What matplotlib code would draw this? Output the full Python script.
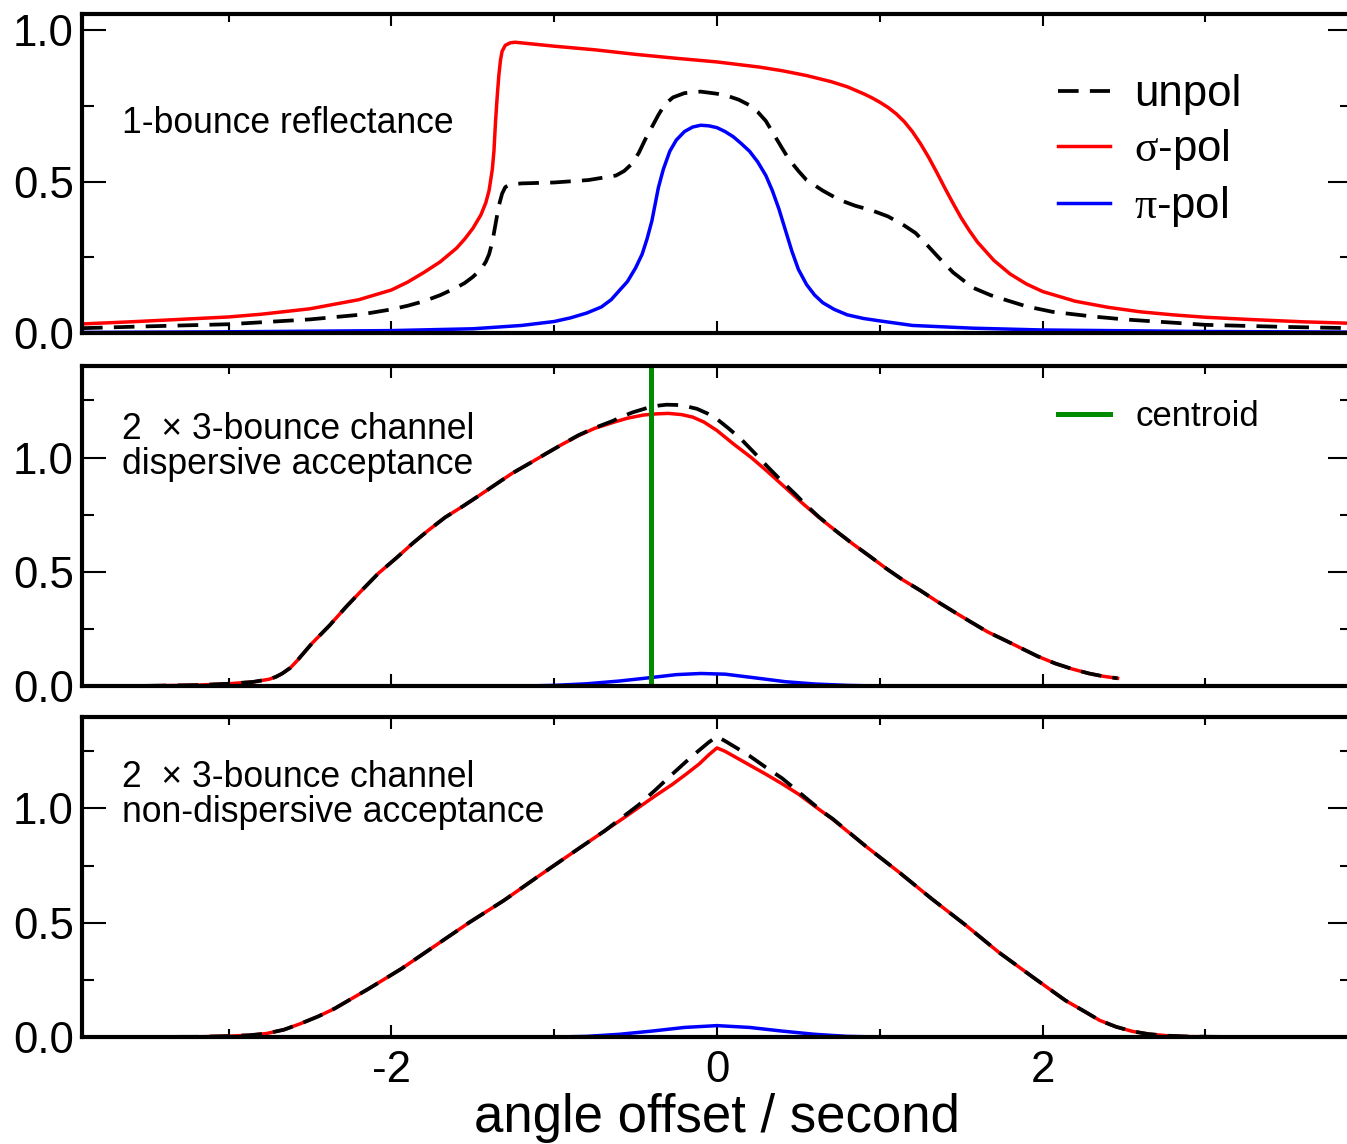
import matplotlib
matplotlib.use('Agg')
import matplotlib.pyplot as plt
from matplotlib.ticker import MultipleLocator, FormatStrFormatter

plt.rcParams['font.family'] = ['Liberation Sans', 'DejaVu Sans']
plt.rcParams['mathtext.fontset'] = 'custom'
plt.rcParams['mathtext.rm'] = 'Liberation Serif'
plt.rcParams['axes.unicode_minus'] = False

# ---- 1-bounce reflectance ----
sig1_x = [-3.9, -3.6, -3.3, -3.0, -2.8, -2.5, -2.2, -2.0, -1.9, -1.8, -1.7, -1.6, -1.55,
          -1.5, -1.45, -1.42, -1.4, -1.38, -1.37, -1.36, -1.35, -1.34, -1.33, -1.32, -1.3,
          -1.27, -1.24, -1.0, -0.75, -0.5, -0.25, 0.0, 0.26, 0.4, 0.55, 0.7, 0.8, 0.9,
          0.95, 1.0, 1.05, 1.1, 1.15, 1.2, 1.25, 1.3, 1.35, 1.4, 1.45, 1.5, 1.55, 1.6, 1.7,
          1.8, 1.9, 2.0, 2.2, 2.4, 2.6, 2.8, 3.0, 3.3, 3.6, 3.9]
sig1_y = [0.030, 0.037, 0.045, 0.053, 0.062, 0.080, 0.110, 0.142, 0.168, 0.20, 0.235,
          0.28, 0.31, 0.345, 0.39, 0.43, 0.47, 0.54, 0.60, 0.70, 0.78, 0.85, 0.90, 0.93,
          0.95, 0.958, 0.96, 0.947, 0.935, 0.92, 0.907, 0.895, 0.878, 0.866, 0.85, 0.83,
          0.813, 0.79, 0.777, 0.762, 0.745, 0.724, 0.698, 0.665, 0.625, 0.58, 0.53, 0.478,
          0.428, 0.38, 0.338, 0.3, 0.24, 0.195, 0.162, 0.137, 0.105, 0.085, 0.07, 0.06,
          0.052, 0.044, 0.037, 0.032]

pi1_x = [-3.9, -3.0, -2.0, -1.5, -1.2, -1.0, -0.9, -0.8, -0.71, -0.65, -0.6, -0.55, -0.5,
         -0.46, -0.43, -0.4, -0.38, -0.36, -0.33, -0.29, -0.25, -0.2, -0.15, -0.1, -0.05,
         0.0, 0.05, 0.1, 0.15, 0.2, 0.25, 0.3, 0.34, 0.38, 0.42, 0.46, 0.5, 0.55, 0.6,
         0.65, 0.72, 0.8, 0.9, 1.0, 1.2, 1.57, 2.0, 3.0, 3.9]
pi1_y = [0.002, 0.004, 0.008, 0.014, 0.025, 0.038, 0.05, 0.066, 0.086, 0.11, 0.14, 0.17,
         0.215, 0.26, 0.31, 0.37, 0.425, 0.48, 0.54, 0.60, 0.637, 0.665, 0.68, 0.686,
         0.684, 0.678, 0.665, 0.648, 0.625, 0.60, 0.565, 0.52, 0.47, 0.41, 0.34, 0.27,
         0.21, 0.16, 0.125, 0.10, 0.078, 0.06, 0.048, 0.04, 0.025, 0.016, 0.010, 0.005, 0.003]

unp1_x = [-3.9, -3.5, -3.0, -2.5, -2.2, -2.0, -1.9, -1.8, -1.7, -1.6, -1.55, -1.5, -1.45,
          -1.42, -1.4, -1.38, -1.36, -1.34, -1.32, -1.3, -1.27, -1.2, -1.0, -0.79, -0.62,
          -0.57, -0.52, -0.48, -0.44, -0.4, -0.36, -0.32, -0.27, -0.2, -0.1, 0.0, 0.07,
          0.135, 0.2, 0.25, 0.3, 0.35, 0.4, 0.44, 0.5, 0.55, 0.65, 0.75, 0.85, 0.95, 1.05,
          1.15, 1.22, 1.3, 1.36, 1.45, 1.57, 1.68, 1.78, 1.9, 2.06, 2.3, 2.5, 3.0, 3.5, 3.9]
unp1_y = [0.016, 0.022, 0.029, 0.045, 0.06, 0.078, 0.09, 0.105, 0.125, 0.15, 0.165, 0.185,
          0.21, 0.235, 0.26, 0.30, 0.36, 0.42, 0.46, 0.482, 0.49, 0.494, 0.497, 0.505, 0.52,
          0.535, 0.56, 0.595, 0.64, 0.68, 0.72, 0.755, 0.778, 0.792, 0.797, 0.79, 0.782,
          0.77, 0.752, 0.73, 0.70, 0.655, 0.61, 0.575, 0.535, 0.505, 0.47, 0.44, 0.42, 0.405,
          0.385, 0.355, 0.33, 0.285, 0.25, 0.20, 0.15, 0.125, 0.108, 0.088, 0.07, 0.055,
          0.045, 0.027, 0.02, 0.016]

# ---- 2 x 3-bounce, dispersive ----
sig2_x = [-3.9, -3.5, -3.2, -3.0, -2.85, -2.75, -2.71, -2.67, -2.62, -2.58, -2.49, -2.38,
          -2.28, -2.18, -2.08, -1.97, -1.87, -1.77, -1.67, -1.56, -1.46, -1.36, -1.26,
          -1.15, -1.05, -0.95, -0.85, -0.75, -0.64, -0.55, -0.45, -0.37, -0.3, -0.22,
          -0.15, -0.08, 0.0, 0.1, 0.21, 0.3, 0.417, 0.52, 0.624, 0.73, 0.832, 0.94, 1.04,
          1.14, 1.247, 1.35, 1.455, 1.56, 1.662, 1.77, 1.87, 1.97, 2.077, 2.18, 2.285,
          2.37, 2.46]
sig2_y = [0.0, 0.001, 0.004, 0.010, 0.018, 0.030, 0.040, 0.055, 0.08, 0.11, 0.185, 0.265,
          0.345, 0.42, 0.493, 0.56, 0.624, 0.683, 0.738, 0.787, 0.834, 0.882, 0.93, 0.975,
          1.017, 1.058, 1.096, 1.128, 1.153, 1.172, 1.186, 1.191, 1.193, 1.188, 1.177,
          1.155, 1.118, 1.06, 1.0, 0.945, 0.87, 0.803, 0.739, 0.679, 0.623, 0.567, 0.514,
          0.465, 0.419, 0.371, 0.325, 0.28, 0.237, 0.2, 0.165, 0.13, 0.099, 0.075, 0.055,
          0.043, 0.034]

unp2_x = [-3.9, -3.5, -3.2, -3.0, -2.85, -2.75, -2.71, -2.67, -2.62, -2.58, -2.49, -2.38,
          -2.28, -2.18, -2.08, -1.97, -1.87, -1.77, -1.67, -1.56, -1.46, -1.36, -1.26,
          -1.15, -1.05, -0.95, -0.85, -0.75, -0.64, -0.58, -0.52, -0.46, -0.42, -0.36,
          -0.31, -0.25, -0.2, -0.123, -0.06, 0.0, 0.07, 0.147, 0.23, 0.313, 0.4, 0.479,
          0.55, 0.624, 0.73, 0.832, 0.94, 1.04, 1.14, 1.247, 1.35, 1.455, 1.56, 1.662,
          1.77, 1.87, 1.97, 2.077, 2.18, 2.285, 2.37, 2.46]
unp2_y = [0.0, 0.001, 0.004, 0.010, 0.018, 0.030, 0.040, 0.055, 0.08, 0.11, 0.185, 0.265,
          0.345, 0.42, 0.493, 0.56, 0.624, 0.683, 0.738, 0.787, 0.834, 0.882, 0.93, 0.975,
          1.017, 1.058, 1.098, 1.13, 1.16, 1.18, 1.197, 1.21, 1.219, 1.227, 1.231, 1.23,
          1.226, 1.213, 1.193, 1.168, 1.128, 1.081, 1.02, 0.958, 0.895, 0.841, 0.79, 0.741,
          0.679, 0.623, 0.567, 0.514, 0.465, 0.419, 0.371, 0.325, 0.28, 0.237, 0.2, 0.165,
          0.13, 0.099, 0.075, 0.055, 0.043, 0.034]

pi2_x = [-3.9, -1.2, -1.0, -0.8, -0.6, -0.42, -0.25, -0.1, 0.05, 0.21, 0.42, 0.6, 0.8, 1.0, 2.46]
pi2_y = [0.0, 0.0, 0.003, 0.01, 0.022, 0.036, 0.05, 0.055, 0.052, 0.038, 0.019, 0.009, 0.003, 0.0, 0.0]

centroid = -0.405

# ---- 2 x 3-bounce, non-dispersive ----
sig3_x = [-3.9, -3.2, -3.0, -2.87, -2.77, -2.66, -2.56, -2.45, -2.35, -2.14, -1.94, -1.73,
          -1.52, -1.31, -1.106, -0.898, -0.69, -0.58, -0.482, -0.38, -0.275, -0.19, -0.109,
          -0.05, 0.0, 0.05, 0.12, 0.2, 0.3, 0.4, 0.5, 0.6, 0.71, 0.91, 1.12, 1.32, 1.53,
          1.73, 1.94, 2.14, 2.25, 2.35, 2.45, 2.55, 2.65, 2.76, 2.9, 3.2]
sig3_y = [0.0, 0.001, 0.004, 0.008, 0.015, 0.032, 0.058, 0.09, 0.124, 0.211, 0.298, 0.40,
          0.502, 0.597, 0.699, 0.801, 0.902, 0.955, 1.004, 1.055, 1.105, 1.15, 1.195, 1.235,
          1.265, 1.25, 1.222, 1.19, 1.15, 1.108, 1.063, 1.01, 0.953, 0.837, 0.72, 0.604,
          0.488, 0.371, 0.262, 0.16, 0.115, 0.073, 0.045, 0.025, 0.013, 0.006, 0.002, 0.0]

unp3_x = [-3.9, -3.2, -3.0, -2.87, -2.77, -2.66, -2.56, -2.45, -2.35, -2.14, -1.94, -1.73,
          -1.52, -1.31, -1.106, -0.898, -0.69, -0.58, -0.482, -0.38, -0.275, -0.19, -0.109,
          -0.05, 0.0, 0.05, 0.12, 0.2, 0.3, 0.4, 0.48, 0.565, 0.65, 0.71, 0.91, 1.12, 1.32,
          1.53, 1.73, 1.94, 2.14, 2.25, 2.35, 2.45, 2.55, 2.65, 2.76, 2.9, 3.2]
unp3_y = [0.0, 0.001, 0.004, 0.008, 0.015, 0.032, 0.058, 0.09, 0.124, 0.211, 0.298, 0.40,
          0.502, 0.597, 0.699, 0.801, 0.902, 0.962, 1.015, 1.08, 1.15, 1.205, 1.255, 1.29,
          1.315, 1.295, 1.265, 1.23, 1.18, 1.132, 1.085, 1.035, 0.985, 0.955, 0.837, 0.72,
          0.604, 0.488, 0.371, 0.262, 0.16, 0.115, 0.073, 0.045, 0.025, 0.013, 0.006,
          0.002, 0.0]

pi3_x = [-3.9, -1.0, -0.8, -0.6, -0.4, -0.2, 0.0, 0.2, 0.4, 0.6, 0.8, 1.0, 3.9]
pi3_y = [0.0, 0.0, 0.003, 0.012, 0.026, 0.042, 0.05, 0.042, 0.026, 0.012, 0.003, 0.0, 0.0]

RED, BLUE, GREEN = '#ff0000', '#0000ff', '#008b00'
DASH = (0, (5.5, 3.0))

fig = plt.figure(figsize=(13.47, 11.44), dpi=100)
left, width = 82 / 1347, 1270 / 1347
ax1 = fig.add_axes([left, 0.7089, width, 0.2788])
ax2 = fig.add_axes([left, 0.4003, width, 0.2797])
ax3 = fig.add_axes([left, 0.0935, width, 0.2797])


def style(ax, ytop):
    ax.set_xlim(-3.9, 3.9)
    ax.set_ylim(0, ytop)
    ax.xaxis.set_major_locator(MultipleLocator(2))
    ax.xaxis.set_minor_locator(MultipleLocator(1))
    ax.yaxis.set_major_locator(MultipleLocator(0.5))
    ax.yaxis.set_minor_locator(MultipleLocator(0.25))
    ax.yaxis.set_major_formatter(FormatStrFormatter('%.1f'))
    ax.tick_params(which='both', direction='in', top=True, right=True, width=1.5)
    ax.tick_params(axis='y', which='major', length=17, labelsize=31.5, pad=6)
    ax.tick_params(axis='y', which='minor', length=8.5)
    ax.tick_params(axis='x', which='major', length=8.5, labelsize=31.5, pad=9)
    ax.tick_params(axis='x', which='minor', length=6)
    for sp in ax.spines.values():
        sp.set_linewidth(3)


def curves(ax, sx, sy, px, py, ux, uy):
    hs, = ax.plot(sx, sy, color=RED, lw=2.5, label=r'$\mathrm{\sigma}$-pol')
    hp, = ax.plot(px, py, color=BLUE, lw=2.5, label=r'$\mathrm{\pi}$-pol')
    hu, = ax.plot(ux, uy, color='black', lw=2.7, ls=DASH, label='unpol')
    return hu, hs, hp


# top panel
style(ax1, 1.053)
handles = curves(ax1, sig1_x, sig1_y, pi1_x, pi1_y, unp1_x, unp1_y)
ax1.tick_params(labelbottom=False)
ax1.text(-3.654, 0.66, '1-bounce reflectance', fontsize=25.6, va='baseline')
ax1.legend(handles=handles, loc='center left', bbox_to_anchor=(0.7685, 0.569),
           frameon=False, fontsize=31.5, handlelength=1.19, handletextpad=0.55,
           labelspacing=0.27, borderpad=0, borderaxespad=0)

# middle panel
style(ax2, 1.4)
curves(ax2, sig2_x, sig2_y, pi2_x, pi2_y, unp2_x, unp2_y)
hc = ax2.axvline(centroid, color=GREEN, lw=3.6, label='centroid')
ax2.tick_params(labelbottom=False)
ax2.text(-3.654, 1.079, '2  \u00d7 3-bounce channel', fontsize=25.6, va='baseline')
ax2.text(-3.654, 0.93, 'dispersive acceptance', fontsize=25.6, va='baseline')
ax2.legend(handles=[hc], loc='center left', bbox_to_anchor=(0.7685, 0.843),
           frameon=False, fontsize=25, handlelength=1.5, handletextpad=0.72,
           borderpad=0, borderaxespad=0)

# bottom panel
style(ax3, 1.4)
curves(ax3, sig3_x, sig3_y, pi3_x, pi3_y, unp3_x, unp3_y)
ax3.text(-3.654, 1.093, '2  \u00d7 3-bounce channel', fontsize=25.6, va='baseline')
ax3.text(-3.654, 0.94, 'non-dispersive acceptance', fontsize=25.6, va='baseline')
ax3.set_xlabel('angle offset / second', fontsize=38, labelpad=2)

fig.savefig('out.png', dpi=100)
